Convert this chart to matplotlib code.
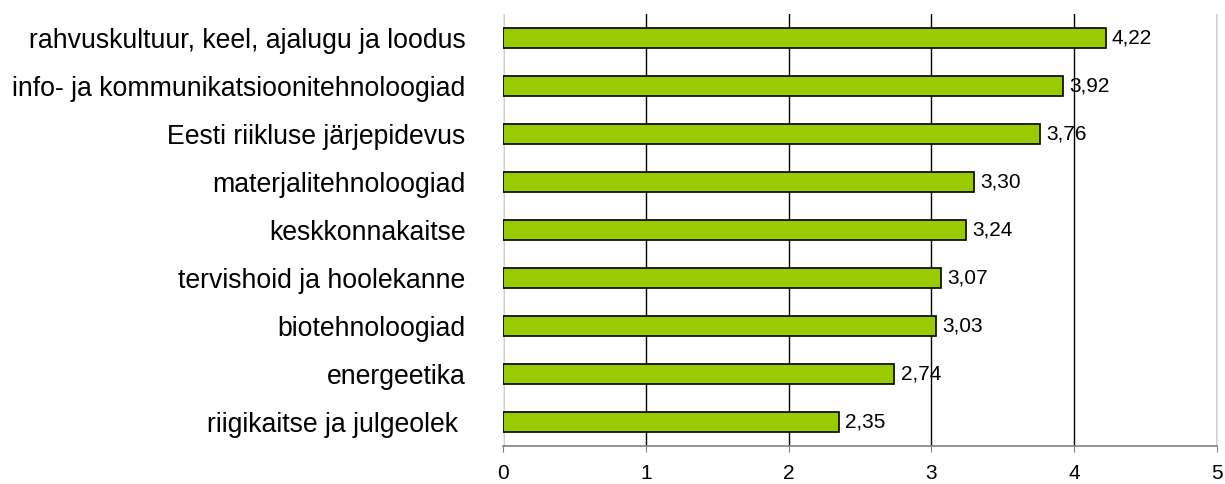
import matplotlib
matplotlib.use("Agg")
import matplotlib.pyplot as plt

categories = [
    "rahvuskultuur, keel, ajalugu ja loodus",
    "info- ja kommunikatsioonitehnoloogiad",
    "Eesti riikluse järjepidevus",
    "materjalitehnoloogiad",
    "keskkonnakaitse",
    "tervishoid ja hoolekanne",
    "biotehnoloogiad",
    "energeetika",
    "riigikaitse ja julgeolek ",
]
values = [4.22, 3.92, 3.76, 3.30, 3.24, 3.07, 3.03, 2.74, 2.35]
value_labels = ["4,22", "3,92", "3,76", "3,30", "3,24", "3,07", "3,03", "2,74", "2,35"]
xticks = [0, 1, 2, 3, 4, 5]

plt.rcParams['font.family'] = ['Liberation Sans', 'DejaVu Sans']

fig = plt.figure(figsize=(12.25, 4.84), dpi=100)
ax = fig.add_axes([503/1225, 1-446/484, 714/1225, 432/484])

ypos = list(range(len(categories)))
ax.barh(ypos, values, height=0.43, color="#99CC00", edgecolor="black", linewidth=1.2, zorder=3)
for y, v, lab in zip(ypos, values, value_labels):
    ax.annotate(lab, (v, y), xytext=(4.5, 0), textcoords="offset points",
                va="center", ha="left", fontsize=15, color="black")

ax.set_xlim(0, 5)
ax.set_ylim(len(categories) - 0.5, -0.5)
ax.set_xticks(xticks)
ax.set_xticklabels([str(t) for t in xticks], fontsize=15)
ax.set_yticks(ypos)
ax.set_yticklabels(categories, fontsize=19.2)
ax.tick_params(axis='y', length=0, pad=27)
ax.tick_params(axis='x', length=4, color="#808080", pad=9, direction="out")

ax.grid(axis='x', color="black", linewidth=1.0, zorder=0)
ax.set_axisbelow(True)
for s in ["left", "right", "top"]:
    ax.spines[s].set_color("#e6e6e6")
ax.spines["top"].set_visible(False)
ax.spines["bottom"].set_color("#808080")
ax.spines["bottom"].set_linewidth(1.2)

fig.savefig("out.png", dpi=100)
